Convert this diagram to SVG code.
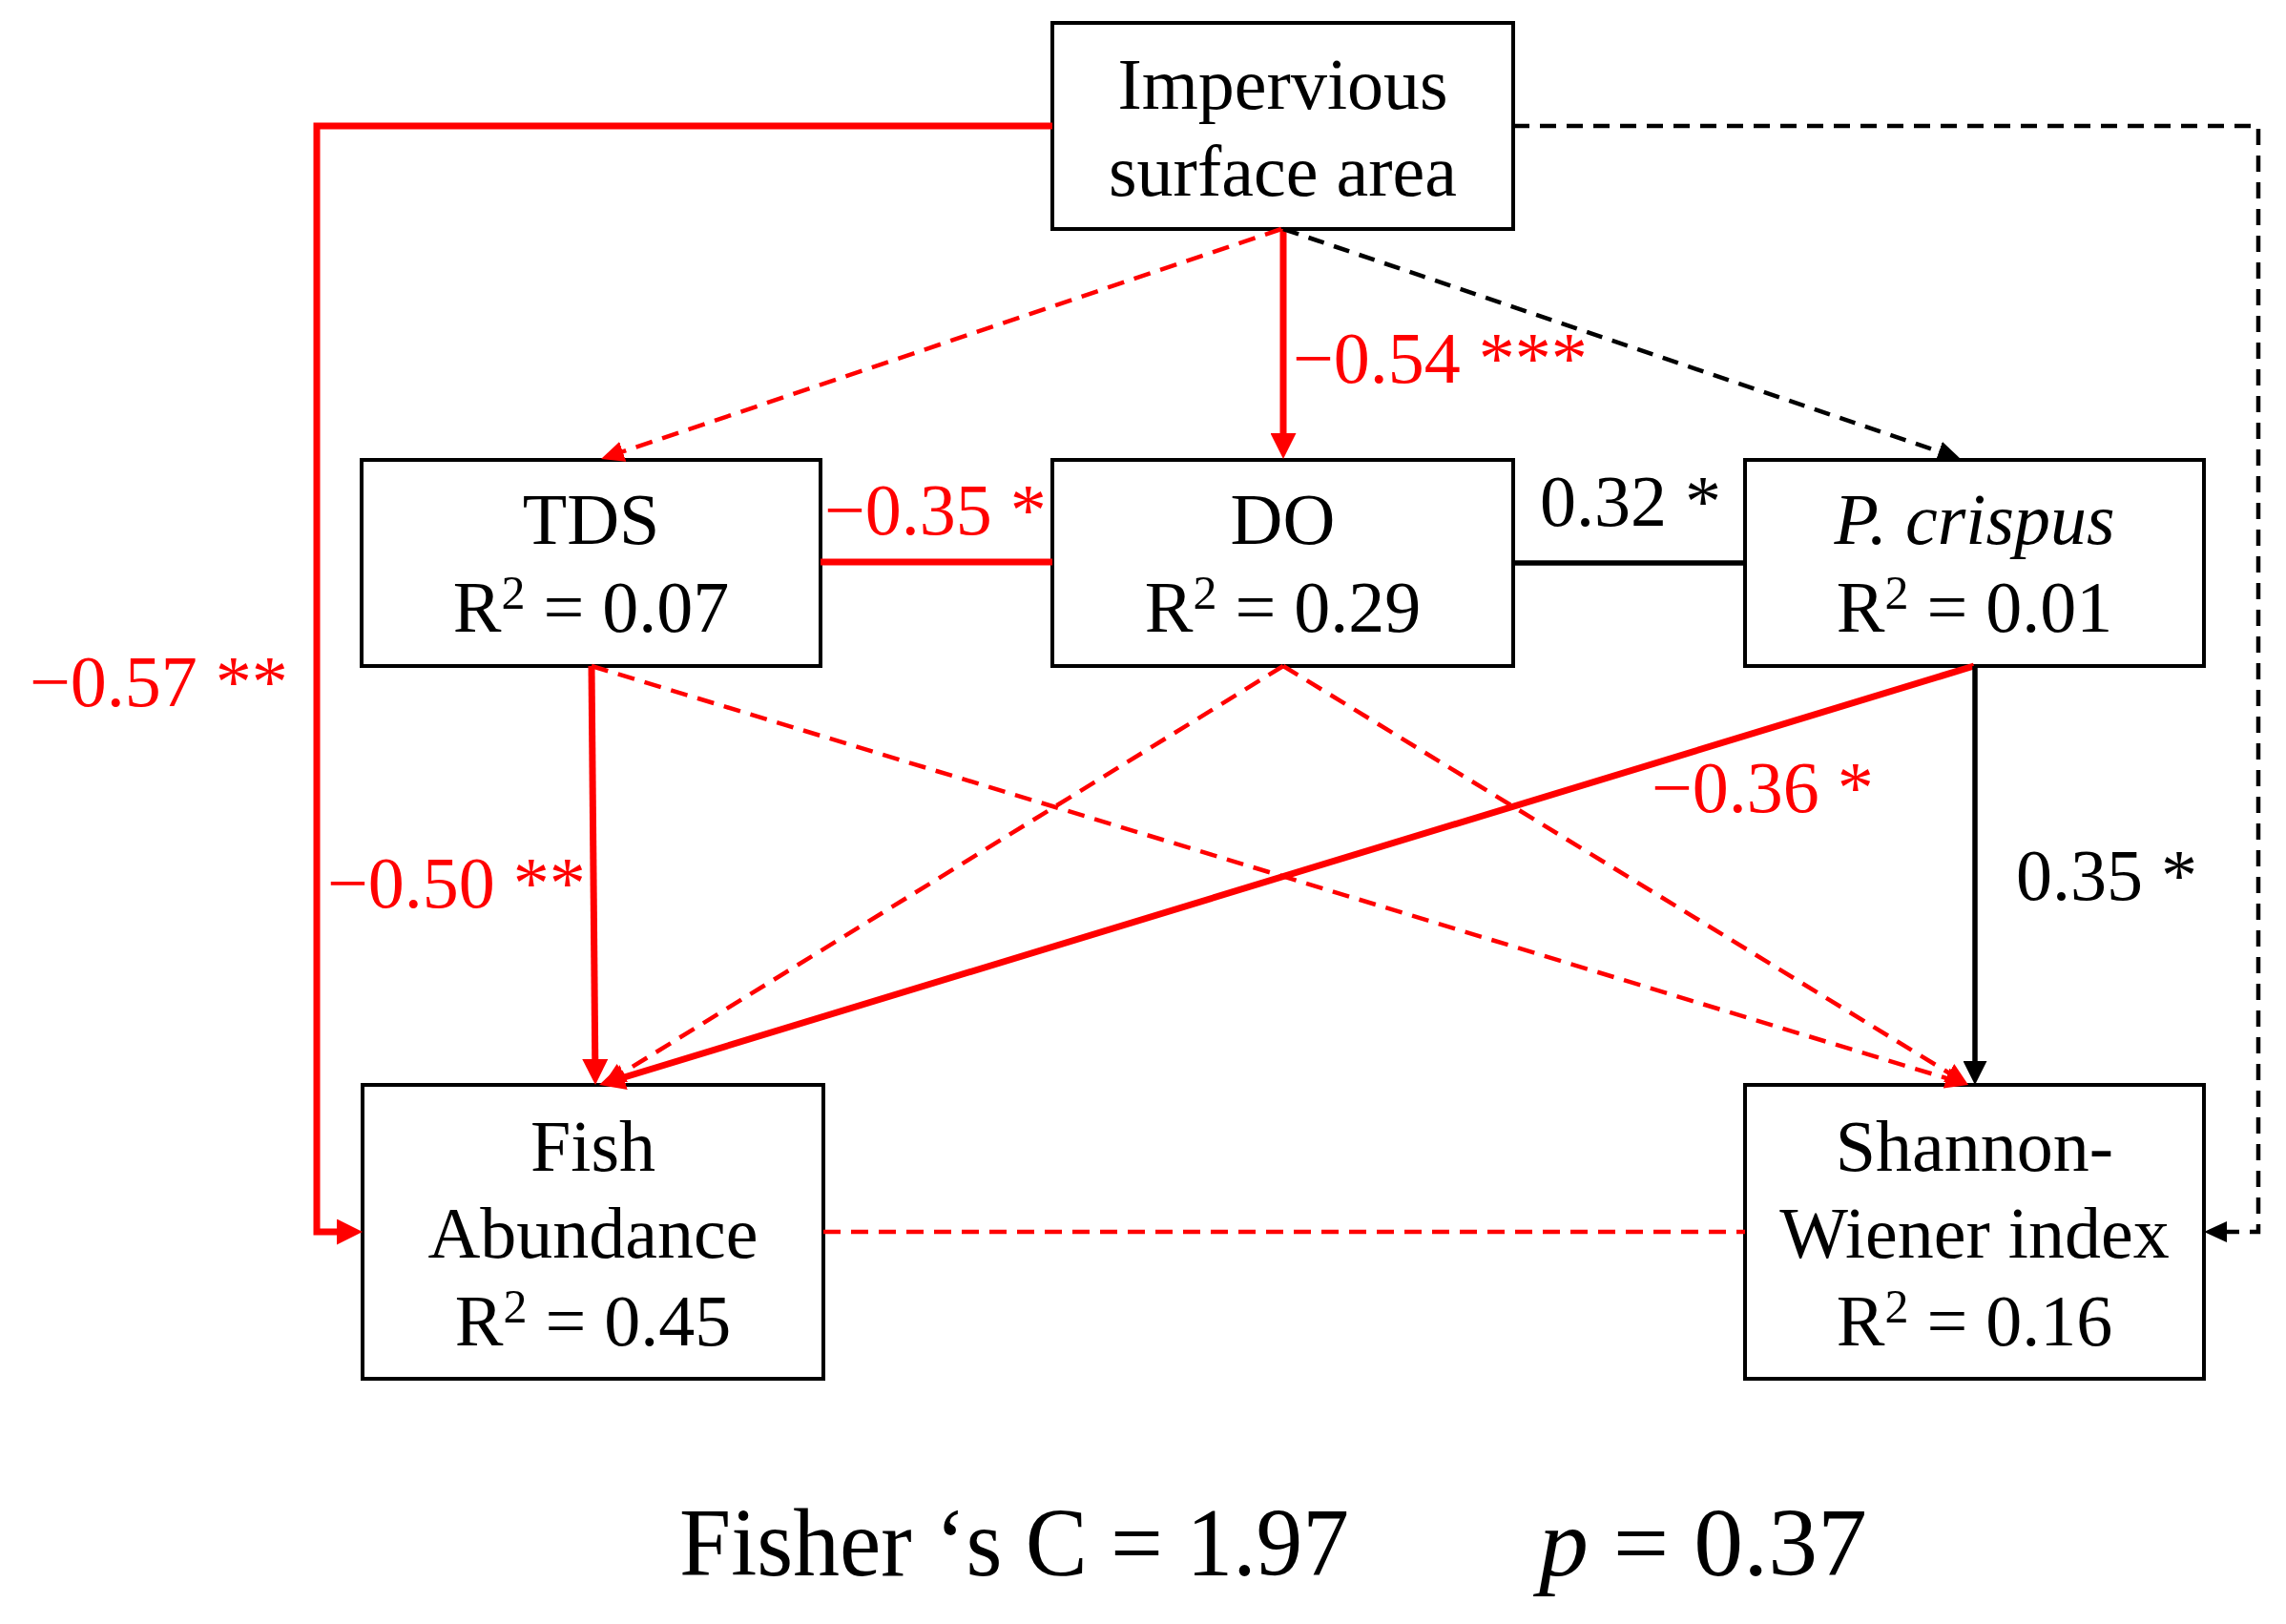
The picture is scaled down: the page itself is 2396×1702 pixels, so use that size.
<svg xmlns="http://www.w3.org/2000/svg" width="2396" height="1702" viewBox="0 0 2396 1702">
<style>
.box{fill:#fff;stroke:#000;stroke-width:4}
.t{font-family:"Liberation Serif","Times New Roman",serif;font-size:76px;fill:#000;text-anchor:middle}
.lbl{font-family:"Liberation Serif","Times New Roman",serif;font-size:76px}
.red{fill:#ff0000}
.blk{fill:#000}
.sup{font-size:50px}
.rs{fill:none;stroke:#ff0000;stroke-width:7}
.rd{fill:none;stroke:#ff0000;stroke-width:4.5;stroke-dasharray:18 11}
.ks{fill:none;stroke:#000;stroke-width:5.5}
.kd{fill:none;stroke:#000;stroke-width:4.5;stroke-dasharray:17 11}
</style>
<defs>
<marker id="aR" markerUnits="userSpaceOnUse" markerWidth="27" markerHeight="27" viewBox="0 0 27 27" refX="15" refY="13.5" orient="auto"><path d="M0,0 L27,13.5 L0,27 z" fill="#ff0000"/></marker>
<marker id="aRd" markerUnits="userSpaceOnUse" markerWidth="24" markerHeight="22" viewBox="0 0 24 22" refX="12" refY="11" orient="auto"><path d="M0,0 L24,11 L0,22 z" fill="#ff0000"/></marker>
<marker id="aK" markerUnits="userSpaceOnUse" markerWidth="25" markerHeight="25" viewBox="0 0 25 25" refX="13" refY="12.5" orient="auto"><path d="M0,0 L25,12.5 L0,25 z" fill="#000"/></marker>
<marker id="aKd" markerUnits="userSpaceOnUse" markerWidth="24" markerHeight="22" viewBox="0 0 24 22" refX="12" refY="11" orient="auto"><path d="M0,0 L24,11 L0,22 z" fill="#000"/></marker>
</defs>
<rect width="2396" height="1702" fill="#fff"/>

<g id="node-impervious">
<rect class="box" x="1103" y="24" width="483" height="216"/>
<text class="t" x="1344.5" y="114">Impervious</text>
<text class="t" x="1344.5" y="205">surface area</text>
</g>
<g id="node-tds">
<rect class="box" x="379" y="482" width="481" height="216"/>
<text class="t" x="619.5" y="570">TDS</text>
<text class="t" x="619.5" y="662">R<tspan class="sup" dy="-24">2</tspan><tspan dy="24"> = 0.07</tspan></text>
</g>
<g id="node-do">
<rect class="box" x="1103" y="482" width="483" height="216"/>
<text class="t" x="1344.5" y="570">DO</text>
<text class="t" x="1344.5" y="662">R<tspan class="sup" dy="-24">2</tspan><tspan dy="24"> = 0.29</tspan></text>
</g>
<g id="node-pcrispus">
<rect class="box" x="1829" y="482" width="481" height="216"/>
<text class="t" x="2069.5" y="570" font-style="italic">P. crispus</text>
<text class="t" x="2069.5" y="662">R<tspan class="sup" dy="-24">2</tspan><tspan dy="24"> = 0.01</tspan></text>
</g>
<g id="node-fish">
<rect class="box" x="380" y="1137" width="483" height="308"/>
<text class="t" x="621.5" y="1227">Fish</text>
<text class="t" x="621.5" y="1318">Abundance</text>
<text class="t" x="621.5" y="1410">R<tspan class="sup" dy="-24">2</tspan><tspan dy="24"> = 0.45</tspan></text>
</g>
<g id="node-shannon">
<rect class="box" x="1829" y="1137" width="481" height="308"/>
<text class="t" x="2069.5" y="1227">Shannon-</text>
<text class="t" x="2069.5" y="1318">Wiener index</text>
<text class="t" x="2069.5" y="1410">R<tspan class="sup" dy="-24">2</tspan><tspan dy="24"> = 0.16</tspan></text>
</g>

<g id="connectors">
<path class="rs" d="M1345,240 L1345,469" marker-end="url(#aR)"/>
<path class="rd" d="M1343,240 L641.4,477.2" marker-end="url(#aRd)"/>
<path class="kd" d="M1345,240 L2043.6,477.1" marker-end="url(#aKd)"/>
<path class="rs" d="M1103,132 H332 V1291 H368" marker-end="url(#aR)"/>
<path class="kd" d="M1586,132 H2367 V1291 H2322" marker-end="url(#aKd)"/>
<path class="rs" d="M860,589 H1103"/>
<path class="ks" d="M1586,590 H1829"/>
<path class="rs" d="M620,698 L623.9,1125" marker-end="url(#aR)"/>
<path class="rd" d="M620,698 L2051.5,1133.5" marker-end="url(#aRd)"/>
<path class="rd" d="M1345,698 L642.2,1130.7" marker-end="url(#aRd)"/>
<path class="rd" d="M1345,698 L2052.8,1130.7" marker-end="url(#aRd)"/>
<path class="rs" d="M2069,698 L639.5,1133.5" marker-end="url(#aR)"/>
<path class="ks" d="M2070,698 L2070,1125" marker-end="url(#aK)"/>
<path class="rd" d="M863,1291 H1829"/>
</g>

<g id="labels">
<text class="lbl red" x="1355" y="401">−0.54 ***</text>
<text class="lbl red" x="864" y="560">−0.35 *</text>
<text class="lbl blk" x="1614" y="551">0.32 *</text>
<text class="lbl red" x="31" y="740">−0.57 **</text>
<text class="lbl red" x="343" y="951">−0.50 **</text>
<text class="lbl red" x="1731" y="851">−0.36 *</text>
<text class="lbl blk" x="2113" y="943">0.35 *</text>
</g>

<g id="footer">
<text x="712" y="1651" font-family="Liberation Serif, Times New Roman, serif" font-size="102" textLength="702" lengthAdjust="spacingAndGlyphs">Fisher ‘s C = 1.97</text>
<text x="1613" y="1651" font-family="Liberation Serif, Times New Roman, serif" font-size="102" textLength="344" lengthAdjust="spacingAndGlyphs"><tspan font-style="italic">p</tspan> = 0.37</text>
</g>
</svg>
